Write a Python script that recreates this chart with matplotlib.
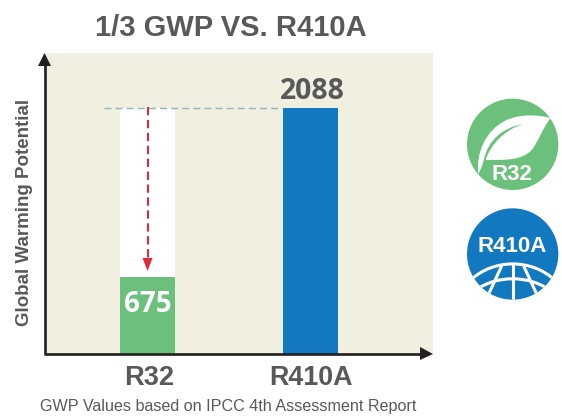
import matplotlib
matplotlib.use("Agg")
import matplotlib.pyplot as plt
from matplotlib.patches import Circle, PathPatch, Polygon
from matplotlib.path import Path

categories = ["R32", "R410A"]
gwp = [675, 2088]
bar_colors = ["#6BC17C", "#1279C1"]
title = "1/3 GWP VS. R410A"
ylabel = "Global Warming Potential"
note = "GWP Values based on IPCC 4th Assessment Report"

W, H = 562, 417
GREY = "#58595B"
DARK = "#231F20"
RED = "#DC2A3A"
SANS = ["Liberation Sans", "DejaVu Sans"]

fig = plt.figure(figsize=(W / 100, H / 100), dpi=100)

def box(x0, y0, x1, y1):
    return [x0 / W, 1 - y1 / H, (x1 - x0) / W, (y1 - y0) / H]

# main plot
ax = fig.add_axes(box(44, 53, 433, 354), facecolor="#F1EFDF")
ax.set_xlim(-0.635, 1.751)
ax.set_ylim(31, 2548)
for s in ax.spines.values():
    s.set_visible(False)
ax.set_xticks([])
ax.set_yticks([])

# white gap above R32 shows the reduction
ax.bar(0, gwp[1], width=0.337, color="white", zorder=1)
ax.bar([0, 1], gwp, width=0.337, color=bar_colors, zorder=2)
ax.plot([-0.267, 0.83], [gwp[1], gwp[1]], color="#8FB5C0", lw=1, dashes=(5, 3), zorder=3)
ax.plot([0, 0], [gwp[1] + 5, gwp[0] + 130], color=RED, lw=1.5, dashes=(4, 2.2), zorder=4)
ax.annotate("", xy=(0, gwp[0] + 50), xytext=(0, gwp[0] + 160),
            arrowprops=dict(arrowstyle="-|>,head_width=0.36,head_length=0.94", color=RED, lw=0, shrinkA=0, shrinkB=0), zorder=4)

ax.text(0, 447, str(gwp[0]), color="white", ha="center", va="center",
        family="Open Sans", weight="bold", size=20, zorder=5)
ax.text(1.012, gwp[1] + 135, str(gwp[1]), color=GREY, ha="center", va="center",
        family="Open Sans", weight="bold", size=20.4, zorder=5)

# overlay in pixels for axis arrows and text
ov = fig.add_axes([0, 0, 1, 1], facecolor="none")
ov.set_xlim(0, W)
ov.set_ylim(H, 0)
ov.axis("off")
ov.plot([44.5, 44.5], [354, 60], color=DARK, lw=1.9, solid_capstyle="butt")
ov.plot([44, 425], [354, 354], color=DARK, lw=1.9, solid_capstyle="butt")
ov.add_patch(Polygon([[38, 66], [51, 66], [44.5, 53]], color=DARK, lw=0))
ov.add_patch(Polygon([[420, 347], [433, 354], [420, 360]], color=DARK, lw=0))

ov.text(231, 28, title, color=GREY, ha="center", va="center", family=SANS, weight="bold", size=21)
ov.text(24.5, 212, ylabel, color=GREY, ha="center", va="center", rotation=90, family=SANS, weight="bold", size=13.5)
ov.text(149, 378, categories[0], color=GREY, ha="center", va="center", family=SANS, weight="bold", size=19.6)
ov.text(311, 378, categories[1], color=GREY, ha="center", va="center", family=SANS, weight="bold", size=19.4)
ov.text(228.5, 407, note, color=GREY, ha="center", va="center", family=SANS, size=11.6)

# icons, coordinates here are 3x pixels from x=450, y=90
ic = fig.add_axes(box(450, 90, 560, 310), facecolor="none")
ic.set_xlim(0, 330)
ic.set_ylim(660, 0)
ic.axis("off")

c1 = Circle((188, 163), 137, color=bar_colors[0], lw=0)
ic.add_patch(c1)
leaf = Path(
    [(85, 252), (78, 190), (105, 120), (170, 90), (215, 70), (265, 75), (302, 84),
     (280, 110), (268, 150), (245, 180), (215, 212), (165, 210), (107, 210),
     (120, 165), (165, 118), (220, 102), (160, 112), (112, 150), (100, 215), (95, 235), (85, 252), (85, 252)],
    [Path.MOVETO] + [Path.CURVE4] * 21)
ic.add_patch(PathPatch(leaf, fc="white", lw=0))
ic.text(187, 254, categories[0], color="white", ha="center", va="center", family=SANS, weight="bold", size=16)

c2 = Circle((188, 492), 137, color=bar_colors[1], lw=0)
ic.add_patch(c2)
ic.text(187, 468, categories[1], color="white", ha="center", va="center", family=SANS, weight="bold", size=16)
curve = [Path.MOVETO, Path.CURVE4, Path.CURVE4, Path.CURVE4]
line = [Path.MOVETO, Path.LINETO]
globe = [
    Path([(60, 572), (130, 505), (246, 505), (316, 572)], curve),
    Path([(78, 600), (140, 555), (236, 555), (298, 600)], curve),
    Path([(188, 522), (188, 640)], line),
    Path([(155, 528), (110, 625)], line),
    Path([(221, 528), (266, 625)], line),
]
for g in globe:
    p = PathPatch(g, fc="none", ec="white", lw=2.2)
    ic.add_patch(p)
    p.set_clip_path(c2)

plt.savefig("out.png", dpi=100)
